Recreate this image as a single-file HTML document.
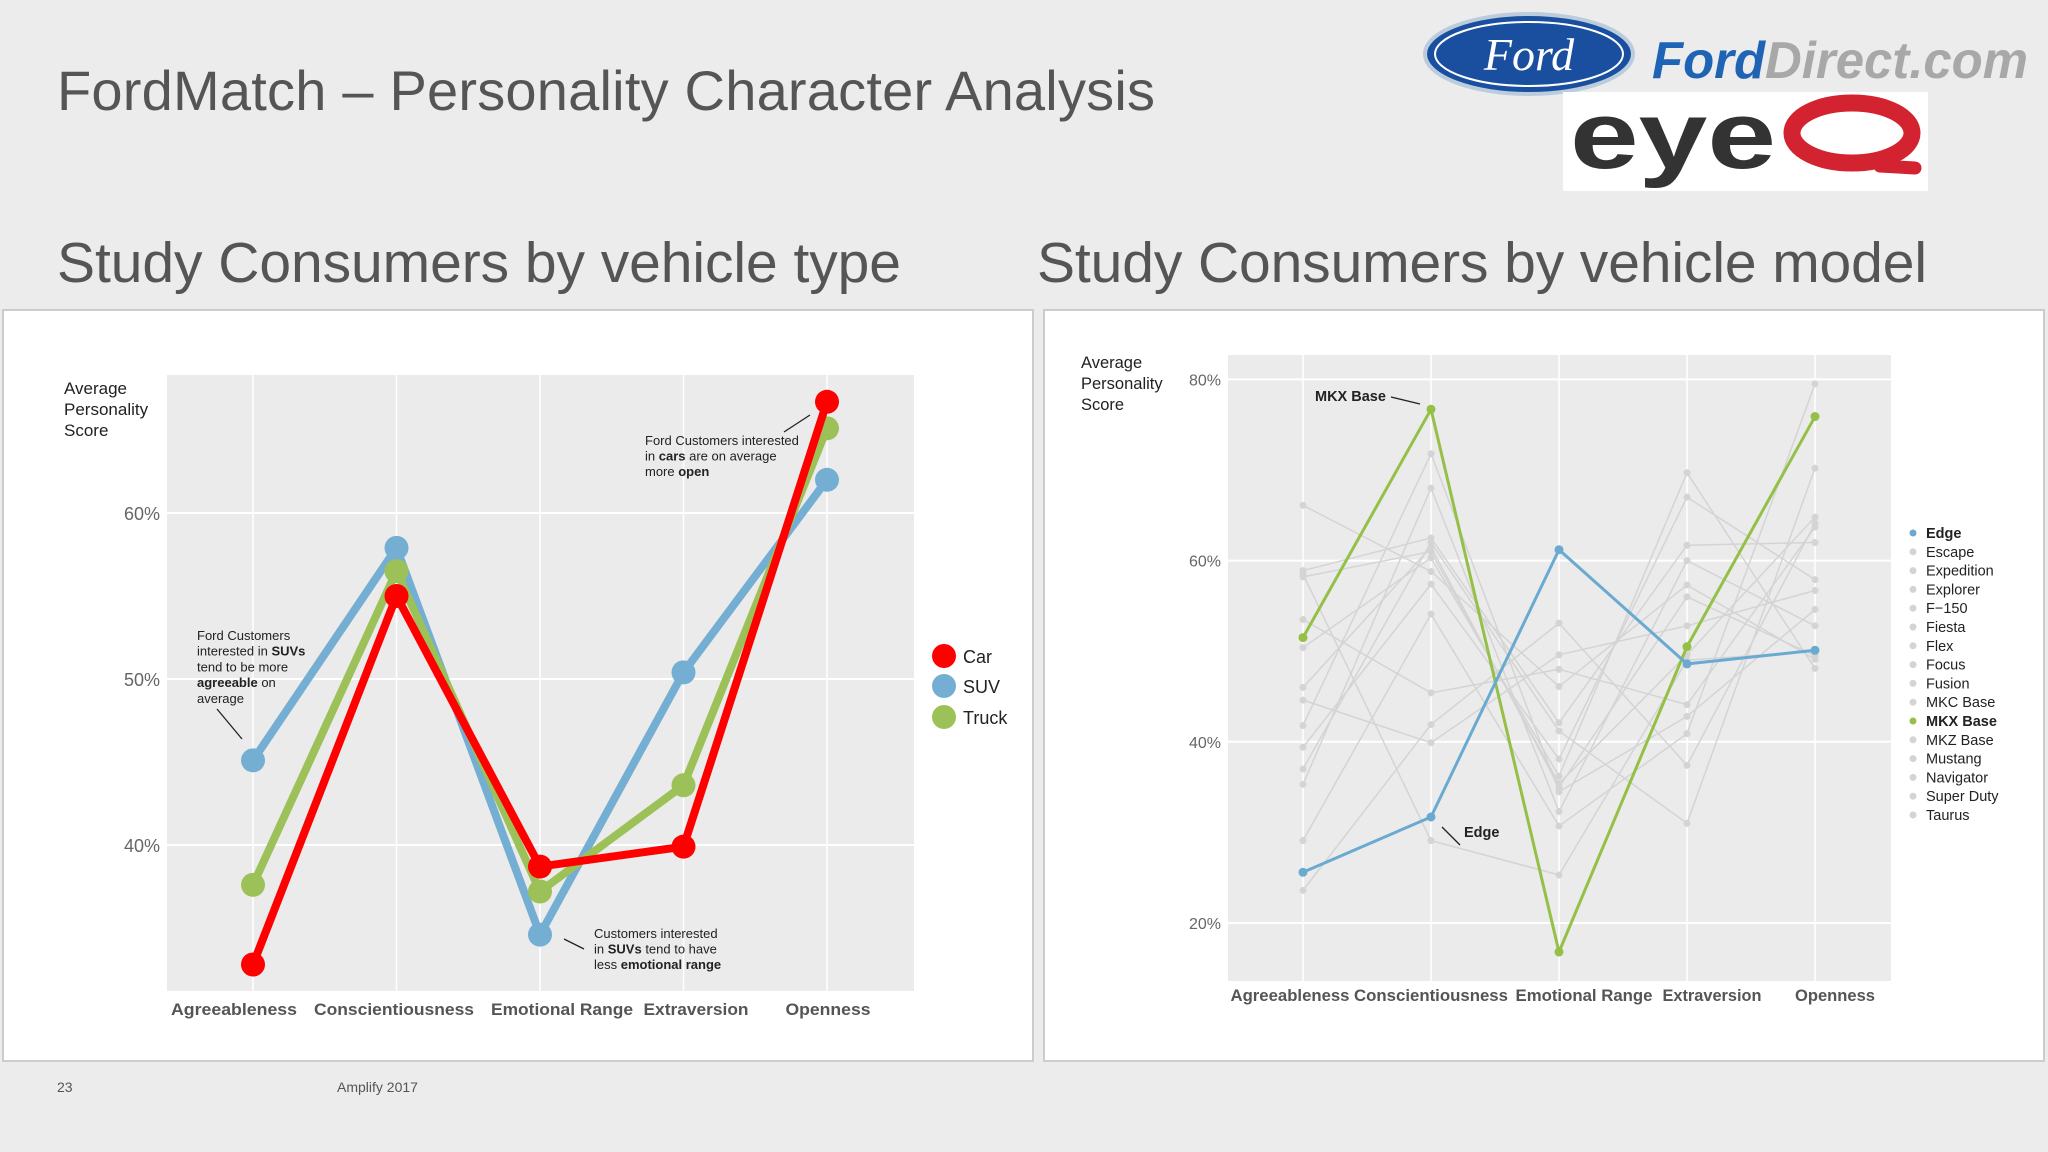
<!DOCTYPE html>
<html><head><meta charset="utf-8"><style>
html,body{margin:0;padding:0;background:#ececec;}
svg{display:block;font-family:"Liberation Sans",sans-serif;}
</style></head><body>
<svg id="s" width="2048" height="1152" viewBox="0 0 2048 1152">
<rect width="2048" height="1152" fill="#ececec"/>
<text x="57" y="110" font-size="56" fill="#555" textLength="1098">FordMatch – Personality Character Analysis</text>
<text x="57" y="282" font-size="57" fill="#555" textLength="844">Study Consumers by vehicle type</text>
<text x="1037" y="282" font-size="57" fill="#555" textLength="890">Study Consumers by vehicle model</text>
<g>
<ellipse cx="1529" cy="54" rx="104" ry="40" fill="#1a4fa0" stroke="#bcd" stroke-width="4"/>
<ellipse cx="1529" cy="54" rx="94" ry="32" fill="none" stroke="#fff" stroke-width="2"/>
<text x="1529" y="70" font-size="46" font-style="italic" font-family="Liberation Serif,serif" fill="#fff" text-anchor="middle">Ford</text>
</g>
<text x="1652" y="78" font-size="52" font-weight="bold" font-style="italic" textLength="376" lengthAdjust="spacingAndGlyphs"><tspan fill="#1f63b5">Ford</tspan><tspan fill="#a8a8a8">Direct.com</tspan></text>
<g>
<rect x="1563" y="92" width="365" height="99" fill="#fff"/>
<text x="1570" y="168" font-size="96" font-weight="bold" fill="#333" textLength="206" lengthAdjust="spacingAndGlyphs">eye</text>
<ellipse cx="1852" cy="133" rx="60" ry="30" fill="none" stroke="#d42330" stroke-width="17"/>
<line x1="1880" y1="166" x2="1915" y2="168" stroke="#d42330" stroke-width="13" stroke-linecap="round"/>
</g>
<rect x="3" y="310" width="1030" height="751" fill="#fff" stroke="#ccc" stroke-width="2"/>
<rect x="1044" y="310" width="1000" height="751" fill="#fff" stroke="#ccc" stroke-width="2"/>
<g id="L"></g><g id="R"></g>
<text x="57" y="1092" font-size="14" fill="#555">23</text>
<text x="337" y="1092" font-size="14" fill="#555">Amplify 2017</text>
</svg>
<script>
const categories=["Agreeableness","Conscientiousness","Emotional Range","Extraversion","Openness"];
const carValues=[32.8,55.0,38.7,39.9,66.7];
const suvValues=[45.1,57.9,34.6,50.4,62.0];
const truckValues=[37.6,56.5,37.2,43.6,65.1];
const leftTicks=[40,50,60];
const modelNames=["Edge","Escape","Expedition","Explorer","F−150","Fiesta","Flex","Focus","Fusion","MKC Base","MKX Base","MKZ Base","Mustang","Navigator","Super Duty","Taurus"];
const modelValues=[
[25.6,31.7,61.2,48.6,50.1],
[58.9,62.5,42.1,61.7,62.0],
[66.1,58.8,46.1,57.3,49.1],
[58.2,61.0,35.4,49.6,64.8],
[53.5,45.4,48.0,44.1,63.7],
[50.4,60.3,36.2,69.7,48.1],
[44.6,39.9,49.6,52.8,56.7],
[41.8,71.8,34.5,42.8,54.6],
[39.4,57.4,38.1,67.0,57.9],
[37.0,62.0,41.2,31.0,70.2],
[51.5,76.7,16.8,50.5,75.9],
[35.3,68.0,32.3,60.0,52.8],
[29.1,54.1,30.7,40.9,79.5],
[23.6,41.9,53.1,37.4,64.1],
[58.5,29.1,25.3,49.0,50.0],
[46.0,61.5,35.0,56.0,49.5]];
const rightTicks=[20,40,60,80];
const NS="http://www.w3.org/2000/svg";
function mk(p,t,a,txt){const e=document.createElementNS(NS,t);for(const k in a)e.setAttribute(k,a[k]);if(txt!==undefined)e.textContent=txt;p.appendChild(e);return e;}
const lLabX=[234,394,562,696,828],lLabW=[126,160,142,105,85];
const rLabX=[1290,1431,1584,1712,1835],rLabW=[119,154,137,99,80];
// LEFT
const L=document.getElementById('L');
const lx=i=>253+i*143.5;
const ly=v=>679-(v-50)*16.6;
let e=mk(L,'rect',{x:167,y:375,width:747,height:616,fill:'#ebebeb'});

leftTicks.forEach(t=>{e=mk(L,'line',{x1:167,x2:914,y1:ly(t),y2:ly(t),stroke:'#fff','stroke-width':2});

e=mk(L,'text',{x:160,y:ly(t)+7,'font-size':18,fill:'#666','text-anchor':'end'},t+'%');
});
categories.forEach((c,i)=>{e=mk(L,'line',{x1:lx(i),x2:lx(i),y1:375,y2:991,stroke:'#fff','stroke-width':1.5});

e=mk(L,'text',{x:lLabX[i]-lLabW[i]/2,y:1015,'font-size':17,'font-weight':'bold',fill:'#555',textLength:lLabW[i],lengthAdjust:'spacingAndGlyphs'},c);
});
[["Average",394],["Personality",415],["Score",436]].forEach(a=>{e=mk(L,'text',{x:64,y:a[1],'font-size':17,fill:'#222'},a[0]);
});
const lseries=[["suv",suvValues,"#74aed3"],["truck",truckValues,"#9dc159"],["car",carValues,"#ff0000"]];
lseries.forEach(s=>{e=mk(L,'polyline',{points:s[1].map((v,i)=>lx(i)+','+ly(v)).join(' '),fill:'none',stroke:s[2],'stroke-width':8,'stroke-linejoin':'round'});

s[1].forEach((v,i)=>{e=mk(L,'circle',{cx:lx(i),cy:ly(v),r:12,fill:s[2]});
});});
[["Car","#ff0000",656],["SUV","#74aed3",686],["Truck","#9dc159",717]].forEach(a=>{
e=mk(L,'circle',{cx:944,cy:a[2],r:12,fill:a[1]});
e=mk(L,'text',{x:963,y:a[2]+7,'font-size':18,fill:'#222'},a[0]);});
function note(p,x,y,lines,size,step,name){const t=mk(p,'text',{x:x,y:y,'font-size':size,fill:'#222'});

lines.forEach((ln,k)=>{const ts=mk(t,'tspan',{x:x,y:y+k*step});ln.forEach(seg=>{mk(ts,'tspan',seg[1]?{'font-weight':'bold'}:{},seg[0]);});});}
note(L,645,445,[[["Ford Customers interested"]],[["in "],["cars",1],[" are on average"]],[["more "],["open",1]]],13,15.5,'openness-annotation');
note(L,197,640,[[["Ford Customers"]],[["interested in "],["SUVs",1]],[["tend to be more"]],[["agreeable",1],[" on"]],[["average"]]],13,15.7,'agreeableness-annotation');
note(L,594,938,[[["Customers interested"]],[["in "],["SUVs",1],[" tend to have"]],[["less "],["emotional range",1]]],13,15.5,'emotional-range-annotation');
[[784,432,810,415],[217,709,242,739],[564,939,584,949]].forEach(a=>{e=mk(L,'line',{x1:a[0],y1:a[1],x2:a[2],y2:a[3],stroke:'#222','stroke-width':1.3});
});
// RIGHT
const R=document.getElementById('R');
const rx=i=>1303+i*128;
const ry=v=>923-(v-20)*9.06;
e=mk(R,'rect',{x:1228,y:355,width:663,height:626,fill:'#ebebeb'});

rightTicks.forEach(t=>{e=mk(R,'line',{x1:1228,x2:1891,y1:ry(t),y2:ry(t),stroke:'#fff','stroke-width':2});

e=mk(R,'text',{x:1221,y:ry(t)+6,'font-size':16,fill:'#666','text-anchor':'end'},t+'%');
});
categories.forEach((c,i)=>{e=mk(R,'line',{x1:rx(i),x2:rx(i),y1:355,y2:981,stroke:'#fff','stroke-width':1.5});

e=mk(R,'text',{x:rLabX[i]-rLabW[i]/2,y:1001,'font-size':16.5,'font-weight':'bold',fill:'#555',textLength:rLabW[i],lengthAdjust:'spacingAndGlyphs'},c);
});
[["Average",368],["Personality",389],["Score",410]].forEach(a=>{e=mk(R,'text',{x:1081,y:a[1],'font-size':16.5,fill:'#222'},a[0]);
});
const hl={0:"#6aaad0",10:"#95c047"};
const order=modelNames.map((n,i)=>i).filter(i=>!(i in hl)).concat([10,0]);
order.forEach(m=>{const col=hl[m]||'#d4d4d4',w=hl[m]?3:1.5,r=hl[m]?4.5:3.5;
e=mk(R,'polyline',{points:modelValues[m].map((v,i)=>rx(i)+','+ry(v)).join(' '),fill:'none',stroke:col,'stroke-width':w});

modelValues[m].forEach((v,i)=>{e=mk(R,'circle',{cx:rx(i),cy:ry(v),r:r,fill:col});
});});
modelNames.forEach((n,k)=>{const y=533+k*18.8,col=hl[k]||'#d4d4d4';
e=mk(R,'circle',{cx:1913,cy:y,r:3.5,fill:col});
e=mk(R,'text',{x:1926,y:y+5,'font-size':14.5,fill:'#222','font-weight':hl[k]?'bold':'normal'},n);
});
e=mk(R,'text',{x:1315,y:401,'font-size':14.5,'font-weight':'bold',fill:'#222'},'MKX Base');

e=mk(R,'text',{x:1464,y:837,'font-size':14.5,'font-weight':'bold',fill:'#222'},'Edge');

[[1391,397,1420,404],[1442,827,1460,845]].forEach(a=>{e=mk(R,'line',{x1:a[0],y1:a[1],x2:a[2],y2:a[3],stroke:'#222','stroke-width':1.3});
});
</script>
</body></html>
